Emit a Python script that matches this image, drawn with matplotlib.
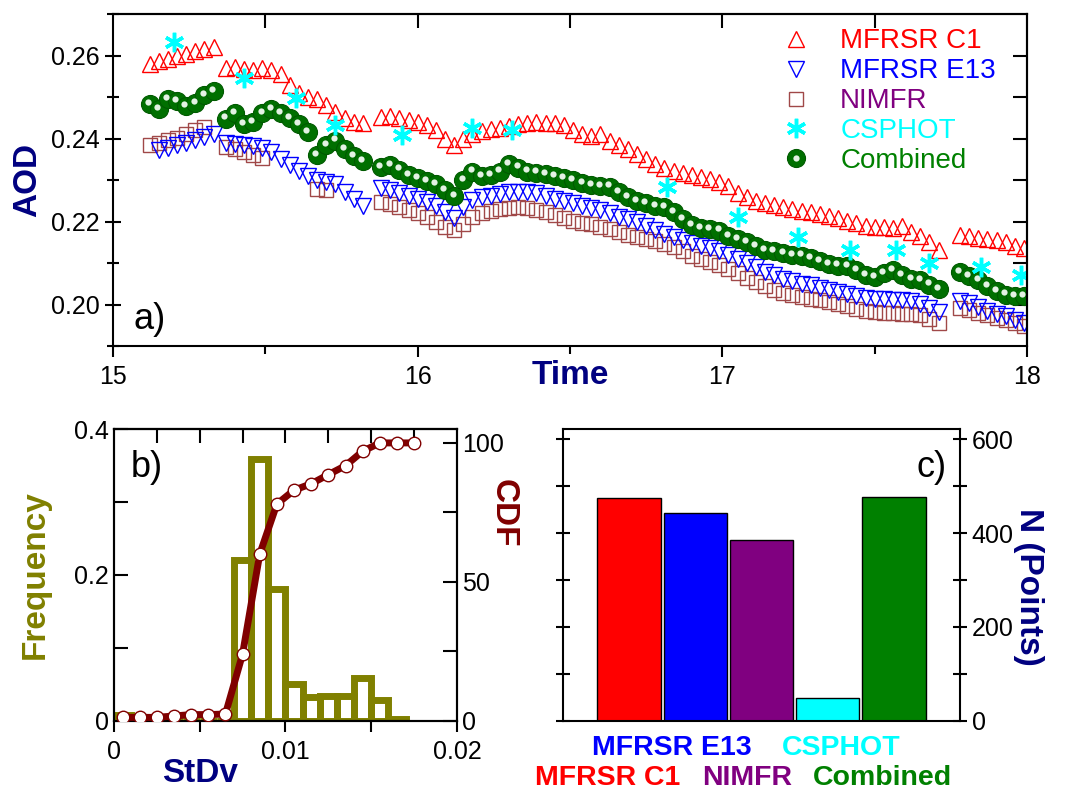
import numpy as np
import matplotlib
matplotlib.use('Agg')
import matplotlib.pyplot as plt
from matplotlib.ticker import MultipleLocator, FixedLocator
from matplotlib.transforms import offset_copy
from matplotlib.legend_handler import HandlerTuple

plt.rcParams['font.family'] = ['Liberation Sans', 'DejaVu Sans']

nan = np.nan

# ---- panel a: AOD time series ----
time_h = [15.12, 15.15, 15.18, 15.21, 15.24, 15.27, 15.30, 15.33,
          15.37, 15.40, 15.43, 15.46, 15.49, 15.52, 15.55, 15.58, 15.61, 15.64, 15.67, 15.70,
          15.73, 15.76, 15.79, 15.82,
          15.88, 15.91, 15.94, 15.97, 16.00, 16.03, 16.06, 16.09, 16.12, 16.15, 16.18, 16.21,
          16.24, 16.27, 16.30, 16.33, 16.36, 16.39, 16.42, 16.45, 16.48, 16.51, 16.54, 16.57,
          16.60, 16.63, 16.66, 16.69, 16.72, 16.75, 16.78, 16.81, 16.84, 16.87, 16.90, 16.93,
          16.96, 16.99, 17.02, 17.05, 17.08, 17.11, 17.14, 17.17, 17.20, 17.23, 17.26, 17.29,
          17.32, 17.35, 17.38, 17.41, 17.44, 17.47, 17.50, 17.53, 17.56, 17.59, 17.62, 17.65,
          17.68, 17.71,
          17.78, 17.81, 17.84, 17.87, 17.90, 17.93, 17.96, 17.99]

aod_c1 = [0.2580, 0.2586, 0.2592, 0.2598, 0.2604, 0.2610, 0.2615, 0.2620,
          0.2570, 0.2572, 0.2568, 0.2566, 0.2570, 0.2566, 0.2555, 0.2530, 0.2510, 0.2500, 0.2495, 0.2480,
          0.2465, 0.2450, 0.2440, 0.2438,
          0.2452, 0.2455, 0.2450, 0.2445, 0.2440, 0.2432, 0.2420, 0.2400, 0.2385, 0.2400, 0.2412, 0.2418,
          0.2422, 0.2425, 0.2430, 0.2435, 0.2438, 0.2440, 0.2438, 0.2438, 0.2432, 0.2420, 0.2410, 0.2405,
          0.2410, 0.2395, 0.2385, 0.2375, 0.2362, 0.2350, 0.2338, 0.2328, 0.2322, 0.2318, 0.2312, 0.2308,
          0.2302, 0.2295, 0.2285, 0.2268, 0.2258, 0.2250, 0.2244, 0.2240, 0.2235, 0.2230, 0.2226, 0.2222,
          0.2218, 0.2213, 0.2208, 0.2202, 0.2196, 0.2190, 0.2188, 0.2186, 0.2184, 0.2190, 0.2175, 0.2165,
          0.2150, 0.2132,
          0.2168, 0.2165, 0.2160, 0.2158, 0.2155, 0.2150, 0.2140, 0.2135]

aod_e13 = [nan, 0.2373, 0.2378, 0.2384, 0.2390, 0.2396, 0.2404, 0.2412,
           0.2389, 0.2387, 0.2384, 0.2382, 0.2378, 0.2368, 0.2350, 0.2335, 0.2322, 0.2310, 0.2300, 0.2295,
           0.2290, 0.2272, 0.2255, 0.2238,
           0.2280, 0.2275, 0.2268, 0.2262, 0.2255, 0.2248, 0.2238, 0.2222, 0.2208, 0.2235, 0.2252, 0.2258,
           0.2262, 0.2266, 0.2270, 0.2272, 0.2270, 0.2268, 0.2262, 0.2255, 0.2250, 0.2244, 0.2238, 0.2232,
           0.2228, 0.2220, 0.2212, 0.2205, 0.2198, 0.2190, 0.2180, 0.2170, 0.2162, 0.2155, 0.2148, 0.2142,
           0.2136, 0.2130, 0.2120, 0.2110, 0.2100, 0.2090, 0.2078, 0.2070, 0.2062, 0.2056, 0.2050, 0.2046,
           0.2040, 0.2036, 0.2030, 0.2025, 0.2020, 0.2016, 0.2014, 0.2013, 0.2012, 0.2010, 0.2008, 0.2002,
           0.1992, 0.1982,
           0.2008, 0.2003, 0.1995, 0.1985, 0.1978, 0.1972, 0.1962, 0.1955]

aod_nimfr = [0.2385, 0.2390, 0.2396, 0.2402, 0.2410, 0.2420, 0.2428, nan,
             0.2380, 0.2375, 0.2368, 0.2360, 0.2352, nan, nan, nan, nan, nan, 0.2278, 0.2276,
             nan, nan, nan, nan,
             0.2247, 0.2242, 0.2235, 0.2228, 0.2220, 0.2212, 0.2200, 0.2188, 0.2180, 0.2195, 0.2210, 0.2220,
             0.2226, 0.2230, 0.2233, 0.2234, 0.2232, 0.2228, 0.2222, 0.2215, 0.2208, 0.2202, 0.2197, 0.2193,
             0.2188, 0.2182, 0.2175, 0.2168, 0.2162, 0.2158, 0.2152, 0.2146, 0.2138, 0.2128, 0.2118, 0.2110,
             0.2102, 0.2095, 0.2085, 0.2075, 0.2065, 0.2055, 0.2045, 0.2035, 0.2028, 0.2022, 0.2018, 0.2014,
             0.2010, 0.2006, 0.2002, 0.1996, 0.1990, 0.1984, 0.1982, 0.1980, 0.1980, 0.1978, 0.1976, 0.1974,
             0.1964, 0.1956,
             0.1992, 0.1988, 0.1980, 0.1975, 0.1968, 0.1962, 0.1955, 0.1948]

aod_comb = [0.2482, 0.2470, 0.2495, 0.2490, 0.2478, 0.2485, 0.2505, 0.2515,
            0.2448, 0.2462, 0.2435, 0.2440, 0.2462, 0.2470, 0.2462, 0.2450, 0.2435, 0.2415, 0.2360, 0.2385,
            0.2395, 0.2375, 0.2358, 0.2345,
            0.2332, 0.2335, 0.2325, 0.2312, 0.2305, 0.2298, 0.2290, 0.2275, 0.2262, 0.2300, 0.2320, 0.2310,
            0.2312, 0.2320, 0.2338, 0.2330, 0.2320, 0.2318, 0.2315, 0.2310, 0.2305, 0.2300, 0.2292, 0.2288,
            0.2285, 0.2284, 0.2270, 0.2258, 0.2250, 0.2244, 0.2238, 0.2235, 0.2222, 0.2205, 0.2192, 0.2185,
            0.2182, 0.2178, 0.2165, 0.2158, 0.2150, 0.2140, 0.2132, 0.2128, 0.2124, 0.2120, 0.2118, 0.2112,
            0.2105, 0.2098, 0.2094, 0.2092, 0.2082, 0.2070, 0.2066, 0.2075, 0.2082, 0.2070, 0.2062, 0.2058,
            0.2048, 0.2038,
            0.2078, 0.2068, 0.2058, 0.2045, 0.2032, 0.2024, 0.2020, 0.2020]

csphot_time = [15.20, 15.43, 15.60, 15.73, 15.95, 16.18, 16.31, 16.82,
               17.05, 17.25, 17.42, 17.57, 17.68, 17.85, 17.98]
csphot_aod = [0.2633, 0.2546, 0.2498, 0.2433, 0.2409, 0.2426, 0.2421, 0.2283,
              0.2211, 0.2163, 0.2132, 0.2132, 0.2100, 0.2091, 0.2072]

# ---- panel b: histogram of StDv + CDF ----
stdv_bins = [0.000, 0.001, 0.002, 0.003, 0.004, 0.005, 0.006, 0.007, 0.008,
             0.009, 0.010, 0.011, 0.012, 0.013, 0.014, 0.015, 0.016]
stdv_freq = [0.008, 0, 0, 0, 0, 0, 0, 0.22, 0.359,
             0.18, 0.05, 0.033, 0.034, 0.034, 0.058, 0.028, 0.003]
cdf_x = [0.0005, 0.0015, 0.0025, 0.0035, 0.0045, 0.0055, 0.0065, 0.0075, 0.0085,
         0.0095, 0.0105, 0.0115, 0.0125, 0.0135, 0.0145, 0.0155, 0.0165, 0.0175]
cdf_y = [1.2, 1.2, 1.2, 1.7, 2.2, 2.2, 2.4, 24, 60, 78, 83, 85.3, 88.6, 91.8, 97, 100, 100, 100]

# ---- panel c: number of points per instrument ----
instruments = ['MFRSR C1', 'MFRSR E13', 'NIMFR', 'CSPHOT', 'Combined']
n_points = [475, 442, 386, 48, 477]
inst_colors = ['#FF0000', '#0000FF', '#800080', '#00FFFF', '#008000']

navy = '#000080'
olive = '#808000'
darkred = '#800000'
TICK_FS = 18

fig = plt.figure(figsize=(10.69, 7.92), dpi=100)

# ================= a) =================
ax = fig.add_axes([0.1057, 0.5631, 0.855, 0.4192])
l_nim, = ax.plot(time_h, aod_nimfr, ls='none', marker='s', ms=10, mfc='none', mec='#A04848', mew=1.0)
l_e13, = ax.plot(time_h, aod_e13, ls='none', marker='v', ms=11, mfc='none', mec='#0000FF', mew=1.0)
l_c1, = ax.plot(time_h, aod_c1, ls='none', marker='^', ms=11, mfc='none', mec='#FF0000', mew=1.0)
l_cmb, = ax.plot(time_h, aod_comb, ls='none', marker='o', ms=13, mfc='#007000', mec='#005A00', mew=0.8)
# small light spot so the green dots look like shaded balls
hl = offset_copy(ax.transData, fig=fig, x=-1.2, y=1.6, units='points')
l_hl, = ax.plot(time_h, aod_comb, ls='none', marker='o', ms=4.5, mfc='#e4f2e4', mec='none',
                transform=hl)
l_cs, = ax.plot(csphot_time, csphot_aod, ls='none', marker=(6, 2, 0), ms=14, mec='#00FFFF', mew=2.5)

ax.set_xlim(15, 18)
ax.set_ylim(0.19, 0.27)
ax.xaxis.set_major_locator(MultipleLocator(1))
ax.xaxis.set_minor_locator(MultipleLocator(0.5))
ax.yaxis.set_major_locator(FixedLocator([0.20, 0.22, 0.24, 0.26]))
ax.yaxis.set_minor_locator(MultipleLocator(0.01))
ax.yaxis.set_major_formatter(plt.FormatStrFormatter('%.2f'))
ax.tick_params(axis='x', which='major', direction='out', length=8, width=1.5, labelsize=TICK_FS, pad=6)
ax.tick_params(axis='x', which='minor', direction='out', length=6, width=1.5)
ax.tick_params(axis='y', which='major', direction='inout', length=12, width=1.5, labelsize=TICK_FS)
ax.tick_params(axis='y', which='minor', direction='inout', length=8, width=1.5)
sec_top = ax.secondary_xaxis('top')
sec_top.set_xticks([15.5, 16, 16.5, 17, 17.5])
sec_top.tick_params(direction='in', length=10, width=1.5, labeltop=False)
sec_right = ax.secondary_yaxis('right')
sec_right.set_yticks([0.20, 0.21, 0.22, 0.23, 0.24, 0.25, 0.26])
sec_right.tick_params(direction='in', length=10, width=1.5, labelright=False)
for s in list(ax.spines.values()) + [sec_top.spines['top'], sec_right.spines['right']]:
    s.set_linewidth(1.5)
ax.set_xlabel('Time', fontsize=24, fontweight='bold', color=navy)
ax.xaxis.set_label_coords(0.50, -0.088)
ax.xaxis.label.set_va('center')
ax.set_ylabel('AOD', fontsize=24, fontweight='bold', color=navy)
ax.yaxis.set_label_coords(-0.093, 0.5)
ax.yaxis.label.set_va('center')
ax.text(0.022, 0.05, 'a)', transform=ax.transAxes, fontsize=26)

leg = ax.legend([l_c1, l_e13, l_nim, l_cs, (l_cmb, l_hl)],
                ['MFRSR C1', 'MFRSR E13', 'NIMFR', 'CSPHOT', 'Combined'],
                handler_map={tuple: HandlerTuple(ndivide=1)},
                loc='upper right', bbox_to_anchor=(0.978, 0.99), frameon=False,
                fontsize=20, labelspacing=0.14, handletextpad=0.5, handlelength=2.2,
                borderaxespad=0,
                labelcolor=['#FF0000', '#0000FF', '#800080', '#00FFFF', '#008000'])

# ================= b) =================
axb = fig.add_axes([0.1066, 0.09, 0.3209, 0.3683])
axb.bar(stdv_bins, stdv_freq, width=0.001, align='edge', fill=False,
        edgecolor=olive, linewidth=5, zorder=2)
axb.set_xlim(0, 0.02)
axb.set_ylim(0, 0.4)
axb.xaxis.set_major_locator(FixedLocator([0, 0.01, 0.02]))
axb.xaxis.set_minor_locator(MultipleLocator(0.005))
axb.set_xticklabels(['0', '0.01', '0.02'])
axb.yaxis.set_major_locator(FixedLocator([0, 0.2, 0.4]))
axb.yaxis.set_minor_locator(MultipleLocator(0.1))
axb.set_yticklabels(['0', '0.2', '0.4'])
axb.tick_params(axis='x', which='both', direction='out', length=8, width=1.5, labelsize=TICK_FS, pad=6)
axb.tick_params(axis='y', which='both', direction='in', length=10, width=1.5, labelsize=TICK_FS)
sec_topb = axb.secondary_xaxis('top')
sec_topb.set_xticks([0.0025, 0.005, 0.0075, 0.01, 0.0125, 0.015, 0.0175])
sec_topb.tick_params(direction='in', length=10, width=1.5, labeltop=False)
axb.set_xlabel('StDv', fontsize=24, fontweight='bold', color=navy)
axb.xaxis.set_label_coords(0.25, -0.18)
axb.xaxis.label.set_va('center')
axb.set_ylabel('Frequency', fontsize=24, fontweight='bold', color=olive)
axb.yaxis.set_label_coords(-0.23, 0.5)
axb.yaxis.label.set_va('center')
axb.text(0.05, 0.835, 'b)', transform=axb.transAxes, fontsize=26)

axb2 = axb.twinx()
axb2.plot(cdf_x, cdf_y, color=darkred, lw=5, marker='o', ms=9, mfc='white', mec=darkred,
          mew=1.0, zorder=3)
axb2.set_ylim(0, 105)
axb2.yaxis.set_major_locator(FixedLocator([0, 50, 100]))
axb2.yaxis.set_minor_locator(MultipleLocator(25))
axb2.tick_params(axis='y', which='both', direction='in', length=10, width=1.5, labelsize=TICK_FS)
axb2.set_ylabel('CDF', fontsize=24, fontweight='bold', color=darkred, rotation=270)
axb2.yaxis.set_label_coords(1.135, 0.71)
axb2.yaxis.label.set_va('center')
for a in (axb, axb2, sec_topb):
    for s in a.spines.values():
        s.set_linewidth(1.5)

# ================= c) =================
axc = fig.add_axes([0.5267, 0.09, 0.3714, 0.3683])
xpos = np.arange(1, len(instruments) + 1)
axc.bar(xpos, n_points, width=0.96, color=inst_colors, edgecolor='black', linewidth=1.0)
axc.set_xlim(0, 6)
axc.set_ylim(0, 622)
axc.set_xticks([])
axc.yaxis.set_major_locator(FixedLocator([0, 200, 400, 600]))
axc.yaxis.set_minor_locator(MultipleLocator(100))
axc.yaxis.tick_right()
axc.tick_params(axis='y', which='both', left=True, right=True, labelleft=False, labelright=True,
                direction='inout', length=10, width=1.5, labelsize=TICK_FS)
for s in axc.spines.values():
    s.set_linewidth(1.5)
axc.yaxis.set_label_position('right')
axc.set_ylabel('N (Points)', fontsize=24, fontweight='bold', color=navy, rotation=270)
axc.yaxis.set_label_coords(1.172, 0.46)
axc.yaxis.label.set_va('center')
axc.text(0.965, 0.835, 'c)', transform=axc.transAxes, fontsize=26, ha='right')

# staggered coloured category labels
label_dx = [-0.32, -0.35, -0.22, 0.2, -0.18]
label_row = [1, 0, 1, 0, 1]
for i, name in enumerate(instruments):
    ytxt = -0.095 if label_row[i] == 0 else -0.195
    axc.text(xpos[i] + label_dx[i], ytxt, name, transform=axc.get_xaxis_transform(),
             ha='center', va='center', fontsize=20.5, fontweight='bold', color=inst_colors[i])

fig.savefig('out.png', dpi=100)
